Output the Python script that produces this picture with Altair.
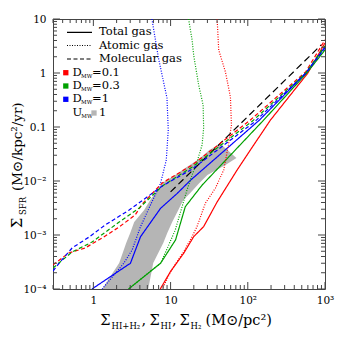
import altair as alt
import pandas as pd

FONT = "DejaVu Serif"
W, H = 272, 270

# ---------------- data ----------------
# Total gas (solid)
red_total_x = [7.35, 9.9, 14.8, 19.9, 26.8, 40.1, 72.8, 108, 197, 596, 1000]
red_total_y = [1e-4, 2.07e-4, 4.6e-4, 9.3e-4, 1.43e-3, 4.1e-3, 0.016, 0.0375, 0.135, 0.987, 3.6]
green_total_x = [2.85, 7.42, 11.6, 15.5, 25.6, 161, 578, 1000]
green_total_y = [1e-4, 3.0e-4, 8.1e-4, 3.34e-3, 8.4e-3, 0.135, 0.99, 2.67]
blue_total_x = [0.96, 3.02, 4.08, 7.42, 12.2, 18.2, 142, 562, 1000]
blue_total_y = [1e-4, 3.0e-4, 9.3e-4, 3.12e-3, 5.9e-3, 0.0104, 0.135, 0.987, 3.03]

# Atomic gas (dotted)
red_atomic_x = [40.1, 42, 51.3, 59.6, 61.4, 56.1, 48.8, 38.1, 28.2, 22, 19, 14.6, 10.2, 7.8]
red_atomic_y = [10, 2.67, 1.05, 0.36, 0.109, 0.0465, 0.016, 7.4e-3, 3.87e-3, 1.43e-3, 9.3e-4, 4.8e-4, 2.2e-4, 1e-4]
green_atomic_x = [17.1, 19, 19.9, 23.1, 26.4, 26.8, 25.6, 22, 19, 16.3, 11.5, 8.5, 7.42, 2.85]
green_atomic_y = [10, 4.08, 2.15, 0.6, 0.255, 0.096, 0.0465, 0.0225, 0.0129, 6.8e-3, 1.24e-3, 4.6e-4, 3.0e-4, 1e-4]
blue_atomic_x = [5.73, 6.98, 8.98, 9.33, 8.8, 7.42, 4.08, 3.18, 2.48, 1.3]
blue_atomic_y = [10, 1.87, 0.344, 0.088, 0.0245, 9.1e-3, 1.43e-3, 5.3e-4, 3.0e-4, 1e-4]

# Molecular gas (dashed)
red_mol_x = [0.3, 0.48, 0.78, 1.3, 2.16, 3.48, 4.29, 7.8, 19.1, 108, 562, 1000]
red_mol_y = [2.8e-4, 4.64e-4, 5.74e-4, 8.8e-4, 1.41e-3, 2.35e-3, 3.75e-3, 9.2e-3, 0.0198, 0.135, 1.05, 4.1]
green_mol_x = [0.3, 0.53, 0.96, 2.16, 3.92, 7.8, 19.1, 115, 562, 1000]
green_mol_y = [2.45e-4, 4.84e-4, 7.4e-4, 1.74e-3, 3.16e-3, 8.07e-3, 0.0182, 0.129, 1.0, 3.2]
blue_mol_x = [0.3, 0.37, 0.53, 0.88, 1.42, 2.91, 4.04, 7.8, 19.1, 122, 562, 1000]
blue_mol_y = [2.15e-4, 3.16e-4, 5.74e-4, 9.18e-4, 1.53e-3, 2.9e-3, 4.08e-3, 8.07e-3, 0.0167, 0.124, 0.99, 2.9]

# Black dashed reference relation
ks_x = [10, 900]
ks_y = [6.3e-3, 3.35]

# Gray observational band (left / right edge at each SFR level)
band_y = [1e-4, 3.03e-4, 7.1e-4, 1.09e-3, 1.74e-3, 2.9e-3, 4.45e-3, 6.0e-3, 9.2e-3,
          0.0129, 0.0174, 0.0198, 0.0267, 0.0375, 0.0484]
band_lo = [1.3, 2.16, 2.66, 3.0, 3.38, 4.55, 5.45, 6.33, 7.8, 11.5, 15.5, 17.8, 24.3, 31.8, 44.3]
band_hi = [5.13, 5.96, 8.04, 9.06, 10.5, 12.6, 14.6, 18.0, 23.6, 30.0, 43.7, 51.3, 71.3, 54.5, 44.3]

# axis ticks
x_major = [1, 10, 100, 1000]
y_major = [1e-4, 1e-3, 1e-2, 0.1, 1, 10]
x_minor = [k * 10.0 ** e for e in range(-1, 3) for k in range(2, 10) if 0.3 <= k * 10.0 ** e <= 1000]
y_minor = [k * 10.0 ** e for e in range(-4, 1) for k in range(2, 10)]

# ---------------- build tables ----------------
series = [
    ("red_total", "red", "total", red_total_x, red_total_y),
    ("green_total", "green", "total", green_total_x, green_total_y),
    ("blue_total", "blue", "total", blue_total_x, blue_total_y),
    ("red_atomic", "red", "atomic", red_atomic_x, red_atomic_y),
    ("green_atomic", "green", "atomic", green_atomic_x, green_atomic_y),
    ("blue_atomic", "blue", "atomic", blue_atomic_x, blue_atomic_y),
    ("ks", "black", "ks", ks_x, ks_y),
    ("red_mol", "red", "molecular", red_mol_x, red_mol_y),
    ("green_mol", "green", "molecular", green_mol_x, green_mol_y),
    ("blue_mol", "blue", "molecular", blue_mol_x, blue_mol_y),
]
rows = []
for name, col, sty, xs, ys in series:
    for i, (a, b) in enumerate(zip(xs, ys)):
        rows.append(dict(series=name, color=col, style=sty, i=i, x=a, y=b))
df = pd.DataFrame(rows)
bdf = pd.DataFrame(dict(y=band_y, lo=band_lo, hi=band_hi))

xscale = alt.Scale(type="log", domain=[0.3, 1000], nice=False)
yscale = alt.Scale(type="log", domain=[1e-4, 10], nice=False)

xaxis = alt.Axis(values=x_major, ticks=False, domain=False, grid=False, title=None,
                 labelFont=FONT, labelFontSize=10.5, labelColor="black", labelPadding=6,
                 labelFlush=False,
                 labelExpr="datum.value < 5 ? '1' : datum.value < 50 ? '10' : datum.value < 500 ? '10²' : '10³'")
yaxis = alt.Axis(values=y_major, ticks=False, domain=False, grid=False, title=None,
                 labelFont=FONT, labelFontSize=10.5, labelColor="black", labelPadding=7,
                 labelExpr="datum.value < 0.0005 ? '10⁻⁴' : datum.value < 0.005 ? '10⁻³' : datum.value < 0.05 ? '10⁻²' : datum.value < 0.5 ? '0.1' : datum.value < 5 ? '1' : '10'")

band = alt.Chart(bdf).mark_area(orient="horizontal", color="#b5b5b5", clip=True).encode(
    y=alt.Y("y:Q", scale=yscale, axis=yaxis),
    x=alt.X("lo:Q", scale=xscale, axis=xaxis),
    x2="hi:Q",
)

lines = alt.Chart(df).mark_line(clip=True, strokeWidth=1.2).encode(
    x=alt.X("x:Q", scale=xscale, axis=xaxis),
    y=alt.Y("y:Q", scale=yscale, axis=yaxis),
    color=alt.Color("color:N", scale=alt.Scale(domain=["red", "green", "blue", "black"],
                                               range=["#ff0000", "#00a000", "#0000ff", "#000000"]), legend=None),
    strokeDash=alt.StrokeDash("style:N", scale=alt.Scale(domain=["total", "atomic", "molecular", "ks"],
                                                         range=[[1, 0], [1, 1.5], [4, 2.5], [7, 4]]), legend=None),
    detail="series:N",
    order="i:Q",
)

TICK = "#444444"
def xticks(vals, L):
    d = pd.DataFrame({"v": vals})
    bot = alt.Chart(d).mark_rule(color=TICK, strokeWidth=1).encode(
        x=alt.X("v:Q", scale=xscale, axis=xaxis), y=alt.value(H), y2=alt.value(H - L))
    top = alt.Chart(d).mark_rule(color=TICK, strokeWidth=1).encode(
        x=alt.X("v:Q", scale=xscale, axis=xaxis), y=alt.value(0), y2=alt.value(L))
    return [bot, top]

def yticks(vals, L):
    d = pd.DataFrame({"v": vals})
    lef = alt.Chart(d).mark_rule(color=TICK, strokeWidth=1).encode(
        y=alt.Y("v:Q", scale=yscale, axis=yaxis), x=alt.value(0), x2=alt.value(L))
    rig = alt.Chart(d).mark_rule(color=TICK, strokeWidth=1).encode(
        y=alt.Y("v:Q", scale=yscale, axis=yaxis), x=alt.value(W), x2=alt.value(W - L))
    return [lef, rig]

one = alt.Data(values=[{"a": 1}])

def txt(s, x, y, size, angle=0, align="left", baseline="alphabetic", color="black"):
    return alt.Chart(one).mark_text(text=s, align=align, baseline=baseline, fontSize=size,
                                    font=FONT, angle=angle, color=color).encode(
        x=alt.value(x), y=alt.value(y))

def lrule(x1, x2, y, dash):
    return alt.Chart(one).mark_rule(color="black", strokeWidth=1.2, strokeDash=dash).encode(
        x=alt.value(x1), x2=alt.value(x2), y=alt.value(y))

def sq(x, y, col):
    return alt.Chart(one).mark_square(size=28, color=col, opacity=1).encode(x=alt.value(x), y=alt.value(y))

LF = 11.5
SF = 5.5
legend = [
    lrule(14, 39, 13.3, [1, 0]), txt("Total gas", 46, 13.3, LF, baseline="middle"),
    lrule(14, 39, 26.5, [1, 1.5]), txt("Atomic gas", 46, 26.5, LF, baseline="middle"),
    lrule(14, 39, 40, [4, 2.5]), txt("Molecular gas", 46, 40, LF, baseline="middle"),
]
for yy, col, val in [(53.7, "#ff0000", "=0.1"), (67, "#00a000", "=0.3"), (80.3, "#0000ff", "=1")]:
    legend += [sq(12.8, yy, col), txt("D", 19.5, yy, LF, baseline="middle"),
               txt("MW", 28, yy + 2.8, SF, baseline="middle"),
               txt(val, 39, yy, LF, baseline="middle")]
legend += [txt("U", 19.5, 94, LF, baseline="middle"), txt("MW", 28.3, 96.8, SF, baseline="middle"),
           sq(41, 94, "#b5b5b5"),
           txt("1", 46, 94, LF, baseline="middle")]

TS, SS = 14.5, 8.5
TB = 306
SB = TB + 4
titles = [
    txt("Σ", 47.3, TB, TS), txt("HI+H₂", 58.5, SB, SS), txt(",", 88.5, TB, TS),
    txt("Σ", 96.5, TB, TS), txt("HI", 107.5, SB, SS), txt(",", 119, TB, TS),
    txt("Σ", 126.5, TB, TS), txt("H₂", 137.5, SB, SS), txt("(M⊙/pc²)", 152.5, TB, TS),
    txt("Σ", -31, 209, TS, angle=270), txt("SFR", -27.5, 196, SS, angle=270),
    txt("(M⊙/kpc²/yr)", -31, 172, 13.5, angle=270),
]

layers = [band, lines] + xticks(x_major, 7) + xticks(x_minor, 4) + yticks(y_major, 7) + yticks(y_minor, 4) + legend + titles

chart = alt.layer(*layers).properties(
    width=W, height=H,
    autosize=alt.AutoSizeParams(type="none"),
    padding={"left": 45, "top": 11, "right": 10, "bottom": 46},
    background="white",
).configure_view(stroke="#444444", strokeWidth=1)

chart.save("out.html", embed_options={"renderer": "svg", "actions": False})
